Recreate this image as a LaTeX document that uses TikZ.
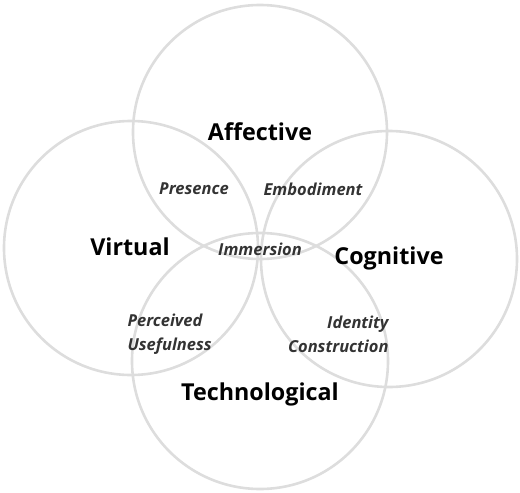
\documentclass[tikz,border=0pt]{standalone}
\usepackage{fontspec}
\setmainfont{Open Sans}
\definecolor{ringgray}{HTML}{DDDDDD}
\definecolor{subtext}{HTML}{333333}

\begin{document}
\begin{tikzpicture}[x=1pt, y=-1pt,
    ring/.style={draw=ringgray, line width=2.6pt},
    mainlabel/.style={font=\fontsize{23.3}{26}\selectfont\bfseries, text=black},
    sublabel/.style={font=\fontsize{16.5}{24}\selectfont\bfseries\itshape, text=subtext}]
    \useasboundingbox (0, 0) rectangle (520, 493);

    % Draw the circles
    \draw[ring] (260, 132) circle (127);
    \draw[ring] (131, 248) circle (127);
    \draw[ring] (389, 259) circle (128);
    \draw[ring] (260, 361) circle (128);

    % Labels
    \node[mainlabel] (affective) at (260, 132) {Affective};
    \node[mainlabel] (virtual) at (130, 247) {Virtual};
    \node[mainlabel] (cognitive) at (389, 258) {Cognitive};
    \node[mainlabel] (technological) at (260, 394) {Technological};

    \node[sublabel] (presence) at (194, 189) {Presence};
    \node[sublabel] (embodiment) at (313, 189) {Embodiment};
    \node[sublabel] (immersion) at (260, 249) {Immersion};
    \node[sublabel, align=left, anchor=west] (perceived) at (124, 334) {Perceived\\Usefulness};
    \node[sublabel, align=right, anchor=east] (identity) at (392, 334) {Identity\\Construction};
\end{tikzpicture}
\end{document}
